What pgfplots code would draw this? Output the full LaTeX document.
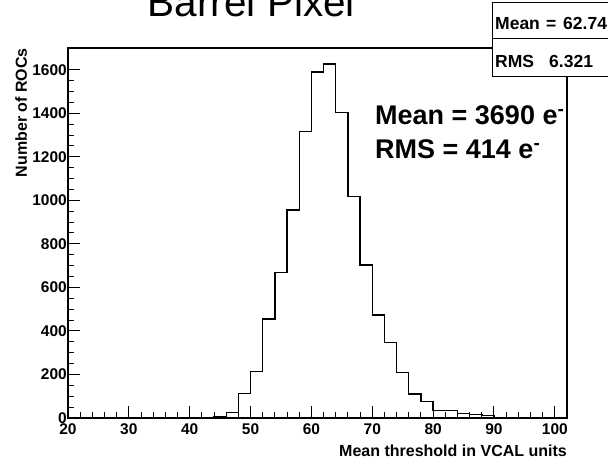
\documentclass[border=0pt]{standalone}
\usepackage{fontspec}
\setmainfont{Liberation Sans}
\usepackage{pgfplots}
\pgfplotsset{compat=1.18}
\begin{document}
\begin{tikzpicture}
\path[use as bounding box] (0,0) rectangle (608pt,460pt);
\clip (0,0) rectangle (608pt,460pt);
\begin{axis}[
  at={(68pt,42pt)}, anchor=south west,
  scale only axis, width=499pt, height=370pt,
  xmin=20, xmax=102, ymin=0, ymax=1700,
  xtick={20,30,...,100}, minor x tick num=4,
  ytick={0,200,...,1600}, minor y tick num=3,
  tick align=inside,
  xtick pos=left, ytick pos=left,
  major tick length=12pt, minor tick length=6pt,
  axis line style={line width=1.2pt},
  tick style={black, line width=1pt},
  /pgf/number format/assume math mode=true,
  /pgf/number format/1000 sep={},
  scaled ticks=false,
  xticklabel style={font=\bfseries\fontsize{15.5}{15.5}\selectfont, inner sep=0pt, yshift=-5pt},
  yticklabel style={font=\bfseries\fontsize{15.5}{15.5}\selectfont, inner sep=0pt, xshift=-1pt},
]
\addplot[const plot mark left, black, line width=1.4pt] coordinates {
(20,0) (40,1) (42,3) (44,8) (46,25) (48,113) (50,213) (52,454) (54,668)
(56,956) (58,1316) (60,1589) (62,1626) (64,1404) (66,1017) (68,703)
(70,474) (72,346) (74,208) (76,110) (78,75) (80,34) (82,34) (84,20)
(86,15) (88,12) (90,3) (92,2) (94,1) (96,0) (100,0)
};
\end{axis}
% axis titles
\node[anchor=base east, inner sep=0pt, font=\bfseries\fontsize{16}{16}\selectfont] at (567pt,3pt) {Mean threshold in VCAL units};
\node[anchor=base east, rotate=90, inner sep=0pt, font=\bfseries\fontsize{16}{16}\selectfont] at (27pt,412pt) {Number of ROCs};
% title
\node[anchor=base, inner sep=0pt, font=\fontsize{40.5}{40.5}\selectfont] at (251.5pt,443pt) {Barrel Pixel};
% stats box
\draw[fill=white, line width=1pt] (492pt,383pt) rectangle (630pt,457.3pt);
\draw[line width=1pt] (492pt,421pt) -- (630pt,421pt);
\begin{scope}[every node/.style={anchor=base west, inner sep=0pt, font=\bfseries\fontsize{17.5}{17.5}\selectfont}]
\node at (495pt,430pt) {Mean};
\node at (546pt,430pt) {=};
\node at (563pt,430pt) {62.74};
\node at (495pt,392pt) {RMS};
\node at (549pt,392pt) {6.321};
\end{scope}
% annotation
\begin{scope}[every node/.style={anchor=base west, inner sep=0pt, font=\bfseries\fontsize{27}{27}\selectfont}]
\node at (375pt,335.7pt) {Mean = 3690 e\textsuperscript{-}};
\node at (375pt,301pt) {RMS = 414 e\textsuperscript{-}};
\end{scope}
\end{tikzpicture}
\end{document}
